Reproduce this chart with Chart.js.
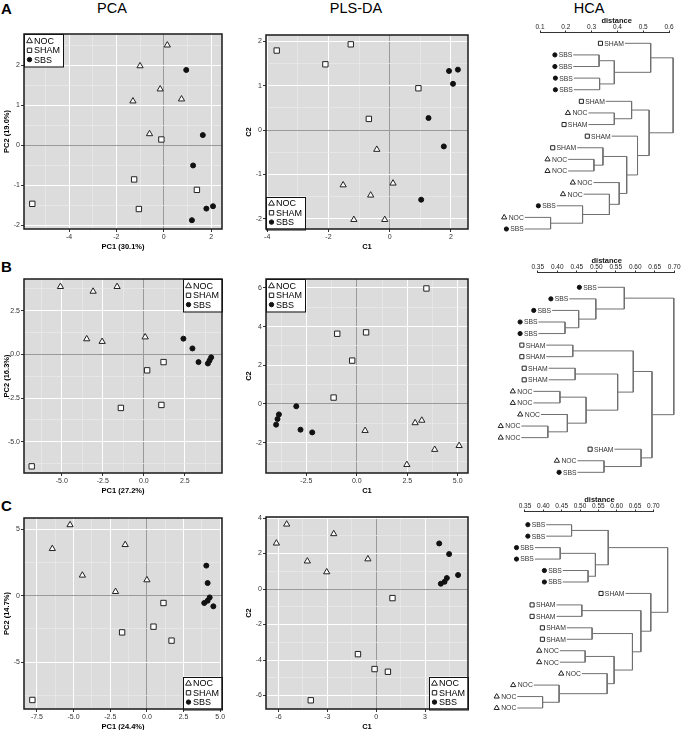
<!DOCTYPE html>
<html>
<head>
<meta charset="utf-8">
<script src="https://cdn.jsdelivr.net/npm/chart.js@4.4.1/dist/chart.umd.min.js"></script>
<style>
  body { margin: 0; background: #fff; width: 685px; height: 730px; position: relative; overflow: hidden;
         font-family: "Liberation Sans", Arial, sans-serif; }
  .lab { position: absolute; font-weight: bold; font-size: 15px; line-height: 1; }
  .ttl { position: absolute; font-size: 14.5px; line-height: 1; transform: translateX(-50%); white-space: nowrap; }
</style>
</head>
<body>
<div class="lab" style="left:1px;top:1px">A</div>
<div class="lab" style="left:1px;top:259px">B</div>
<div class="lab" style="left:1px;top:498px">C</div>
<div class="ttl" style="left:112px;top:1px">PCA</div>
<div class="ttl" style="left:356px;top:1px">PLS-DA</div>
<div class="ttl" style="left:589px;top:1px">HCA</div>

<script>
"use strict";

// ---------- data ----------
const groups = ["NOC", "SHAM", "SBS"];

// row A
const pcaANoc  = [[0.15, 2.5], [-1.0, 1.98], [-0.15, 1.4], [-1.3, 1.1], [0.75, 1.15], [-0.6, 0.28]];
const pcaASham = [[-0.1, 0.14], [-1.25, -0.86], [1.4, -1.12], [-1.05, -1.6], [-5.55, -1.47]];
const pcaASbs  = [[0.95, 1.88], [1.65, 0.25], [1.24, -0.51], [2.08, -1.53], [1.8, -1.59], [1.19, -1.88]];
const pcaAXTicks = ["-4", "-2", "0", "2"];
const pcaAYTicks = ["-2", "-1", "0", "1", "2"];

const plsANoc  = [[-0.42, -0.44], [-1.52, -1.24], [0.11, -1.2], [-0.62, -1.47], [-1.17, -2.02], [-0.16, -2.02]];
const plsASham = [[-3.69, 1.79], [-1.27, 1.93], [-2.1, 1.48], [0.94, 0.94], [-0.68, 0.25]];
const plsASbs  = [[1.94, 1.33], [2.23, 1.36], [2.07, 1.04], [1.27, 0.27], [1.77, -0.37], [1.03, -1.57]];
const plsAXTicks = ["-4", "-2", "0", "2"];
const plsAYTicks = ["-2", "-1", "0", "1", "2"];

// row B
const pcaBNoc  = [[-5.08, 3.87], [-3.09, 3.6], [-1.63, 3.87], [-3.48, 0.88], [-2.54, 0.73], [0.08, 0.99]];
const pcaBSham = [[1.2, -0.44], [0.2, -0.91], [1.07, -2.89], [-1.4, -3.06], [-6.83, -6.4]];
const pcaBSbs  = [[2.41, 0.9], [2.96, 0.34], [3.33, -0.44], [4.1, -0.17], [4.0, -0.35], [3.9, -0.52]];
const pcaBXTicks = ["-5.0", "-2.5", "0.0", "2.5"];
const pcaBYTicks = ["-5.0", "-2.5", "0.0", "2.5"];

const plsBNoc  = [[0.41, -1.38], [2.89, -0.98], [3.22, -0.85], [3.86, -2.36], [5.07, -2.16], [2.48, -3.14]];
const plsBSham = [[3.45, 5.97], [-0.97, 3.63], [0.46, 3.7], [-0.23, 2.24], [-1.15, 0.33]];
const plsBSbs  = [[-3.0, -0.12], [-3.86, -0.54], [-3.93, -0.78], [-4.0, -1.07], [-2.79, -1.33], [-2.21, -1.47]];
const plsBXTicks = ["-2.5", "0.0", "2.5", "5.0"];
const plsBYTicks = ["-2", "0", "2", "4", "6"];

// row C
const pcaCNoc  = [[-5.24, 5.32], [-6.45, 3.53], [-1.48, 3.83], [-4.4, 1.53], [0.0, 1.18], [-2.14, 0.3]];
const pcaCSham = [[1.13, -0.55], [0.45, -2.33], [-1.69, -2.76], [1.68, -3.38], [-7.81, -7.84]];
const pcaCSbs  = [[4.05, 2.26], [4.14, 0.95], [4.28, -0.13], [4.14, -0.38], [3.91, -0.55], [4.53, -0.8]];
const pcaCXTicks = ["-7.5", "-5.0", "-2.5", "0.0", "2.5", "5.0"];
const pcaCYTicks = ["-5", "0", "5"];

const plsCNoc  = [[-5.5, 3.65], [-6.13, 2.58], [-2.61, 3.11], [-4.23, 1.57], [-0.51, 1.69], [-3.04, 0.96]];
const plsCSham = [[1.0, -0.51], [-1.12, -3.67], [-0.1, -4.51], [0.72, -4.66], [-4.02, -6.27]];
const plsCSbs  = [[3.87, 2.57], [4.48, 1.97], [5.03, 0.79], [4.34, 0.62], [4.2, 0.41], [3.97, 0.3]];
const plsCXTicks = ["-6", "-3", "0", "3"];
const plsCYTicks = ["-6", "-4", "-2", "0", "2", "4"];

// dendrograms: leaves top to bottom, merges (negative = leaf, positive = earlier merge), heights
const hcaALeaves = ["SHAM", "SBS", "SBS", "SBS", "SBS", "SHAM", "NOC", "SHAM", "SHAM", "SHAM", "NOC", "NOC", "NOC", "NOC", "SBS", "NOC", "SBS"];
const hcaAMerge  = [[-16, -17], [-15, 1], [-11, -12], [-2, -3], [-4, -5], [-10, 3], [-14, 2], [4, 5],
                    [-7, -8], [-13, 7], [6, 10], [-6, 9], [-9, 11], [-1, 8], [12, 13], [14, 15]];
const hcaAHeight = [0.141, 0.265, 0.309, 0.329, 0.331, 0.344, 0.369, 0.388, 0.388, 0.407, 0.436, 0.455, 0.478, 0.529, 0.523, 0.616];
const hcaATicks  = ["0.1", "0.2", "0.3", "0.4", "0.5", "0.6"];

const hcaBLeaves = ["SBS", "SBS", "SBS", "SBS", "SBS", "SHAM", "SHAM", "SHAM", "SHAM", "NOC", "NOC", "NOC", "NOC", "NOC", "SHAM", "NOC", "SBS"];
const hcaBMerge  = [[-13, -14], [-10, -11], [-4, -5], [-12, 1], [-6, -7], [-8, -9], [-3, 3], [2, 4],
                    [-2, 7], [-16, -17], [6, 8], [-1, 9], [5, 11], [-15, 10], [13, 14], [12, 15]];
const hcaBHeight = [0.376, 0.407, 0.42, 0.426, 0.44, 0.446, 0.455, 0.474, 0.499, 0.52, 0.555, 0.572, 0.595, 0.615, 0.643, 0.699];
const hcaBTicks  = ["0.35", "0.40", "0.45", "0.50", "0.55", "0.60", "0.65", "0.70"];

const hcaCLeaves = ["SBS", "SBS", "SBS", "SBS", "SBS", "SBS", "SHAM", "SHAM", "SHAM", "SHAM", "SHAM", "NOC", "NOC", "NOC", "NOC", "NOC", "NOC"];
const hcaCMerge  = [[-16, -17], [-15, 1], [-3, -4], [-1, -2], [-8, -9], [-12, -13], [-5, -6], [-10, -11],
                    [3, 7], [-14, 2], [4, 9], [6, 10], [8, 12], [5, 13], [-7, 14], [11, 15]];
const hcaCHeight = [0.398, 0.443, 0.446, 0.477, 0.505, 0.514, 0.522, 0.533, 0.542, 0.574, 0.577, 0.593, 0.643, 0.666, 0.693, 0.739];
const hcaCTicks  = ["0.35", "0.40", "0.45", "0.50", "0.55", "0.60", "0.65", "0.70"];

// ---------- styles ----------
Chart.defaults.font.family = "'Liberation Sans', Arial, sans-serif";
Chart.defaults.animation = false;

const BG = "#dcdcdc", MAJOR = "#ffffff", MINOR = "#e9e9e9", ZERO = "#9a9a9a";
const TREE = "#707070";
const marks = {
    NOC:  { pointStyle: "triangle", radius: 3.6, fill: "#ffffff", stroke: "#222", legR: 3.4, treeR: 3.0 },
    SHAM: { pointStyle: "rect",     radius: 3.8, fill: "#ffffff", stroke: "#222", legR: 3.1, treeR: 2.9 },
    SBS:  { pointStyle: "circle",   radius: 2.5, fill: "#111111", stroke: "#111", legR: 2.2, treeR: 2.1 }
};

function drawMark(ctx, group, x, y, r) {
    const m = marks[group];
    ctx.save();
    ctx.fillStyle = m.fill;
    ctx.strokeStyle = m.stroke;
    ctx.lineWidth = 1;
    Chart.helpers.drawPoint(ctx, { pointStyle: m.pointStyle, radius: r, rotation: 0, borderWidth: 1 }, x, y);
    ctx.restore();
}

function makeCanvas(l, t, w, h) {
    const c = document.createElement("canvas");
    c.width = w;
    c.height = h;
    c.style.cssText = "position:absolute;left:" + l + "px;top:" + t + "px;width:" + w + "px;height:" + h + "px";
    document.body.appendChild(c);
    return c;
}

// major ticks from the labels, minor ticks half way between (ggplot style)
function gridTicks(labels, min, max) {
    const v = labels.map(Number);
    const step = v[1] - v[0];
    const out = [];
    out.push({ value: v[0] - step / 2, minor: true });
    v.forEach((val, i) => {
        out.push({ value: val, label: labels[i] });
        out.push({ value: val + step / 2, minor: true });
    });
    return out.filter(t => t.value >= min - 1e-9 && t.value <= max + 1e-9);
}

// background, legend and frame of the scatter panels
const panelPlugin = {
    id: "panel",
    beforeDraw(chart) {
        const a = chart.chartArea, ctx = chart.ctx;
        ctx.save();
        ctx.fillStyle = BG;
        ctx.fillRect(a.left, a.top, a.right - a.left, a.bottom - a.top);
        ctx.restore();
    },
    afterDatasetsDraw(chart, args, opts) {
        const a = chart.chartArea, ctx = chart.ctx;
        const w = 39, h = 32.5;
        const x = opts.corner[1] === "l" ? a.left : a.right - w;
        const y = opts.corner[0] === "t" ? a.top : a.bottom - h;
        ctx.save();
        ctx.fillStyle = "#fff";
        ctx.fillRect(x, y, w, h);
        ctx.strokeStyle = "#111";
        ctx.lineWidth = 1;
        ctx.strokeRect(Math.round(x) + 0.5, Math.round(y) + 0.5, w, h);
        ctx.font = "9px 'Liberation Sans', Arial, sans-serif";
        ctx.fillStyle = "#000";
        ctx.textBaseline = "middle";
        [7, 16.3, 25.6].forEach((dy, i) => {
            drawMark(ctx, groups[i], x + 5.5, y + dy, marks[groups[i]].legR);
            ctx.fillText(groups[i], x + 10, y + dy + 0.5);
        });
        ctx.restore();
    },
    afterDraw(chart) {
        const a = chart.chartArea, ctx = chart.ctx;
        ctx.save();
        ctx.strokeStyle = "#1a1a1a";
        ctx.lineWidth = 1.5;
        ctx.strokeRect(a.left, a.top, a.right - a.left, a.bottom - a.top);
        ctx.restore();
    }
};

function scatterPanel(box, xr, yr, xTicks, yTicks, xTitle, yTitle, series, corner) {
    const AXW = 24, AXH = 24, PADT = 6, PADR = 6;
    const canvas = makeCanvas(box[0] - AXW, box[1] - PADT, box[2] - box[0] + AXW + PADR, box[3] - box[1] + PADT + AXH);

    const datasets = series.map((pts, i) => {
        const m = marks[groups[i]];
        return {
            label: groups[i],
            data: pts.map(p => ({ x: p[0], y: p[1] })),
            pointStyle: m.pointStyle,
            pointRadius: m.radius,
            pointBackgroundColor: m.fill,
            pointBorderColor: m.stroke,
            pointBorderWidth: 1,
            clip: false
        };
    });

    const grid = {
        color: c => c.tick && c.tick.minor ? MINOR : (c.tick && c.tick.value === 0 ? ZERO : MAJOR),
        lineWidth: c => c.tick && c.tick.minor ? 0.7 : 1,
        tickColor: c => c.tick && c.tick.minor ? "rgba(0,0,0,0)" : "#333",
        tickLength: 3,
        drawTicks: true
    };
    const tickOpts = { font: { size: 7 }, color: "#333", padding: 1, autoSkip: false, maxRotation: 0,
                       callback: (v, i, t) => t[i].minor ? "" : t[i].label };
    const titleOpts = text => ({ display: true, text: text, color: "#000", font: { size: 7.5, weight: "bold" } });

    new Chart(canvas, {
        type: "scatter",
        data: { datasets: datasets },
        options: {
            responsive: false,
            layout: { padding: { left: 0, top: PADT, right: PADR, bottom: 0 } },
            plugins: { legend: { display: false }, tooltip: { enabled: false }, panel: { corner: corner } },
            scales: {
                x: {
                    type: "linear", min: xr[0], max: xr[1], bounds: "data",
                    afterBuildTicks: s => { s.ticks = gridTicks(xTicks, xr[0], xr[1]); },
                    afterFit: s => { s.height = AXH; },
                    ticks: tickOpts, grid: grid, border: { display: false },
                    title: Object.assign(titleOpts(xTitle), { padding: { top: 0, bottom: 2 } })
                },
                y: {
                    type: "linear", min: yr[0], max: yr[1], bounds: "data",
                    afterBuildTicks: s => { s.ticks = gridTicks(yTicks, yr[0], yr[1]); },
                    afterFit: s => { s.width = AXW; },
                    ticks: tickOpts, grid: grid, border: { display: false },
                    title: Object.assign(titleOpts(yTitle), { padding: { top: 2.5, bottom: 0 } })
                }
            }
        },
        plugins: [panelPlugin]
    });
}

// ---------- dendrograms ----------
function buildTree(leaves, merges, heights, hang) {
    const nodes = [];
    const segs = [];
    const leafStart = new Array(leaves.length);
    const info = id => id < 0 ? { y: -id, h: null, leaf: -id } : nodes[id - 1];
    merges.forEach((m, i) => {
        const h = heights[i];
        const a = info(m[0]), b = info(m[1]);
        const xa = a.h === null ? h - hang : a.h;
        const xb = b.h === null ? h - hang : b.h;
        if (a.h === null) leafStart[a.leaf - 1] = xa;
        if (b.h === null) leafStart[b.leaf - 1] = xb;
        segs.push({ x: xa, y: a.y }, { x: h, y: a.y }, { x: h, y: b.y }, { x: xb, y: b.y }, { x: null, y: null });
        nodes.push({ y: (a.y + b.y) / 2, h: h });
    });
    return { segs: segs, leafStart: leafStart };
}

const treePlugin = {
    id: "tree",
    afterDraw(chart, args, o) {
        const ctx = chart.ctx, xs = chart.scales.x, ys = chart.scales.y;
        const top = chart.chartArea.top;
        ctx.save();
        // axis line from first to last tick
        ctx.strokeStyle = "#333";
        ctx.lineWidth = 1;
        ctx.beginPath();
        ctx.moveTo(Math.round(xs.getPixelForValue(+o.ticks[0])), Math.round(top) - 0.5);
        ctx.lineTo(Math.round(xs.getPixelForValue(+o.ticks[o.ticks.length - 1])) + 1, Math.round(top) - 0.5);
        ctx.stroke();
        // axis title
        ctx.fillStyle = "#111";
        ctx.font = "bold 7.5px 'Liberation Sans', Arial, sans-serif";
        ctx.textAlign = "center";
        ctx.textBaseline = "middle";
        ctx.fillText("distance", xs.getPixelForValue(o.titleAt), top - 12.5);
        // leaf labels
        ctx.font = "6.8px 'Liberation Sans', Arial, sans-serif";
        ctx.textAlign = "right";
        o.leaves.forEach((g, i) => {
            const x = xs.getPixelForValue(o.leafStart[i]) - 1;
            const y = ys.getPixelForValue(i + 1);
            ctx.fillStyle = "#333";
            ctx.fillText(g, x, y + 0.5);
            const w = ctx.measureText(g).width;
            drawMark(ctx, g, x - w - (g === "NOC" ? 4.5 : 3.8), y, marks[g].treeR);
        });
        ctx.restore();
    }
};

function treePanel(pos, axisH, xr, yr, ticks, titleAt, leaves, merges, heights, hang) {
    const canvas = makeCanvas(pos[0], pos[1], pos[2], pos[3]);
    const t = buildTree(leaves, merges, heights, hang);
    new Chart(canvas, {
        type: "scatter",
        data: { datasets: [{ data: t.segs, showLine: true, spanGaps: false, borderColor: TREE, borderWidth: 1,
                             pointRadius: 0, tension: 0 }] },
        options: {
            responsive: false,
            layout: { padding: 0 },
            plugins: { legend: { display: false }, tooltip: { enabled: false },
                       tree: { ticks: ticks, titleAt: titleAt, leaves: leaves, leafStart: t.leafStart } },
            scales: {
                x: {
                    type: "linear", position: "top", min: xr[0], max: xr[1], bounds: "data",
                    afterBuildTicks: s => { s.ticks = ticks.map(l => ({ value: +l, label: l })); },
                    afterFit: s => { s.height = axisH; },
                    ticks: { font: { size: 6.5, lineHeight: 1 }, color: "#222", padding: 0, autoSkip: false, maxRotation: 0,
                             callback: (v, i, tk) => tk[i].label },
                    grid: { drawOnChartArea: false, drawTicks: true, tickLength: 2.5, tickColor: "#333" },
                    border: { display: false }
                },
                y: { type: "linear", min: yr[0], max: yr[1], reverse: true, display: false }
            }
        },
        plugins: [treePlugin]
    });
}

// ---------- build the figure ----------
scatterPanel([24, 34, 222, 229], [-5.9, 2.46], [-2.1, 2.78], pcaAXTicks, pcaAYTicks, "PC1 (30.1%)", "PC2 (19.0%)",
             [pcaANoc, pcaASham, pcaASbs], "tl");
scatterPanel([266, 35, 468, 229], [-4.04, 2.56], [-2.23, 2.14], plsAXTicks, plsAYTicks, "C1", "C2",
             [plsANoc, plsASham, plsASbs], "bl");
scatterPanel([24, 279, 222, 473], [-7.3, 4.76], [-6.78, 4.31], pcaBXTicks, pcaBYTicks, "PC1 (27.2%)", "PC2 (16.3%)",
             [pcaBNoc, pcaBSham, pcaBSbs], "tr");
scatterPanel([266, 279, 468, 473], [-4.5, 5.51], [-3.57, 6.46], plsBXTicks, plsBYTicks, "C1", "C2",
             [plsBNoc, plsBSham, plsBSbs], "tl");
scatterPanel([24, 518, 222, 709], [-8.38, 5.12], [-8.52, 5.84], pcaCXTicks, pcaCYTicks, "PC1 (24.4%)", "PC2 (14.7%)",
             [pcaCNoc, pcaCSham, pcaCSbs], "br");
scatterPanel([266, 517, 468, 709], [-6.77, 5.64], [-6.76, 4.06], plsCXTicks, plsCYTicks, "C1", "C2",
             [plsCNoc, plsCSham, plsCSbs], "br");

treePanel([480, 12, 205, 230], 21, [-0.1326, 0.662], [0.112, 18.12], hcaATicks, 0.397,
          hcaALeaves, hcaAMerge, hcaAHeight, 0.1);
treePanel([480, 252, 205, 235], 21, [0.202, 0.7277], [-0.237, 18.27], hcaBTicks, 0.527,
          hcaBLeaves, hcaBMerge, hcaBHeight, 0.068);
treePanel([480, 491, 205, 239], 21, [0.2273, 0.7863], [-0.109, 18.92], hcaCTicks, 0.553,
          hcaCLeaves, hcaCMerge, hcaCHeight, 0.069);
</script>
</body>
</html>
